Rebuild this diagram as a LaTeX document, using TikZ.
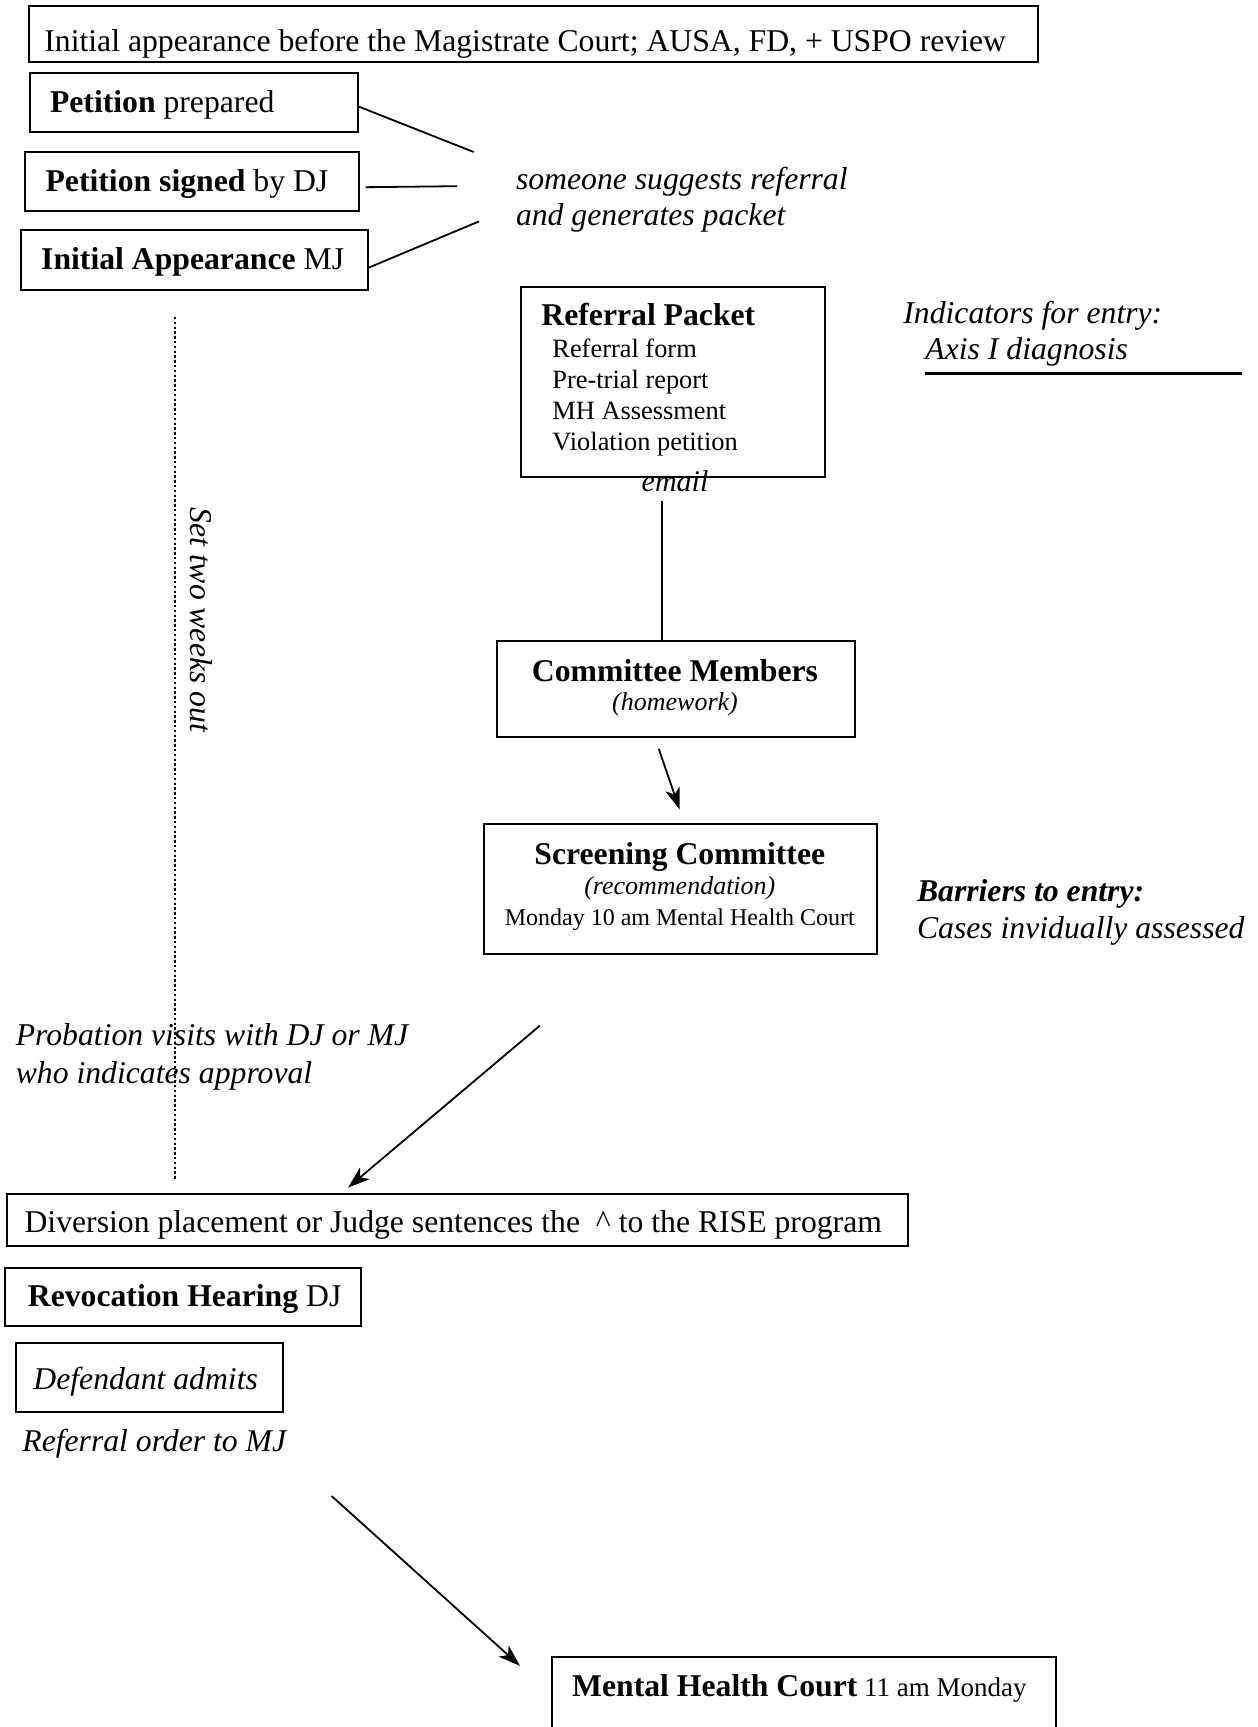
\documentclass[tikz,border=0pt]{standalone}
\usepackage{fontspec}
\setmainfont{Liberation Serif}
\usetikzlibrary{arrows.meta}
\newcommand\fsMain{\fontsize{15.85}{19}\selectfont}
\newcommand\fsItem{\fontsize{13.2}{16}\selectfont}
\newcommand\fsSub{\fontsize{13}{16}\selectfont}
\newcommand\fsSmall{\fontsize{12}{14}\selectfont}
\newcommand\fsMid{\fontsize{13.5}{16}\selectfont}
\newcommand\fsMail{\fontsize{15}{18}\selectfont}
\begin{document}
\begin{tikzpicture}[x=0.5pt,y=-0.5pt,
  box/.style={draw,line width=1pt,inner sep=0pt,anchor=north west},
  lbl/.style={inner sep=0pt,anchor=base west,font=\fsMain},
  ctr/.style={inner sep=0pt,anchor=base},
  conn/.style={line width=0.9pt},
  arr/.style={line width=0.9pt,-{Stealth[length=11pt,width=7.5pt,inset=3pt]}}]
\useasboundingbox (0,0) rectangle (1257,1727);
\clip (0,0) rectangle (1257,1727);

% boxes
\node[box,minimum width=504.6pt,minimum height=27.55pt] (top) at (27.5,5.5) {};
\node[box,minimum width=164.2pt,minimum height=29.7pt] (pp) at (28.6,71.6) {};
\node[box,minimum width=166.9pt,minimum height=29.7pt] (ps) at (24.2,151) {};
\node[box,minimum width=173.5pt,minimum height=29.8pt] (ia) at (19.8,229) {};
\node[box,minimum width=152pt,minimum height=94.8pt] (rp) at (520,286.4) {};
\node[box,minimum width=179pt,minimum height=48pt] (cm) at (495.8,640) {};
\node[box,minimum width=196.6pt,minimum height=65pt] (sc) at (482.5,823) {};
\node[box,minimum width=450.6pt,minimum height=26pt] (dv) at (5.5,1193) {};
\node[box,minimum width=177.8pt,minimum height=29.2pt] (rh) at (4.4,1267) {};
\node[box,minimum width=133.3pt,minimum height=34.7pt] (da) at (15.4,1341.9) {};
\node[box,minimum width=252.2pt,minimum height=50pt] (mhc) at (551,1656) {};

% texts in boxes
\node[lbl] (toptxt) at (44,51.8) {Initial appearance before the Magistrate Court; AUSA, FD, + USPO review};
\node[lbl] (pptxt) at (49.6,112.4) {\bfseries Petition\mdseries\ prepared};
\node[lbl] (pstxt) at (45.2,191.7) {\bfseries Petition signed\mdseries\ by DJ};
\node[lbl] (iatxt) at (40.8,270) {\bfseries Initial Appearance\mdseries\ MJ};
\node[lbl,font=\fsMain\bfseries] (rptitle) at (541,326) {Referral Packet};
\node[lbl,font=\fsItem] (rp1) at (552,358) {Referral form};
\node[lbl,font=\fsItem] (rp2) at (552,389) {Pre-trial report};
\node[lbl,font=\fsItem] (rp3) at (552,419.7) {MH Assessment};
\node[lbl,font=\fsItem] (rp4) at (552,450.6) {Violation petition};
\node[ctr,font=\fsMail\itshape] (email) at (675,491) {email};
\node[ctr,font=\fsMain\bfseries] (cmtitle) at (675,681) {Committee Members};
\node[ctr,font=\fsSub\itshape] (cmsub) at (675,710.6) {(homework)};
\node[ctr,font=\fsMain\bfseries] (sctitle) at (679.8,864.8) {Screening Committee};
\node[ctr,font=\fsSub\itshape] (scsub) at (679.8,894.6) {(recommendation)};
\node[ctr,font=\fsSmall] (scmon) at (679.8,925.4) {Monday 10 am Mental Health Court};
\node[lbl] (dvtxt) at (24.2,1232.8) {Diversion placement or Judge sentences the~~\textasciicircum{} to the RISE program};
\node[lbl] (rhtxt) at (27.5,1306.6) {\bfseries Revocation Hearing\mdseries\ DJ};
\node[lbl,font=\fsMain\itshape] (datxt) at (33,1389) {Defendant admits};
\node[lbl] (mhctxt) at (571.8,1696.6) {\bfseries Mental Health Court\mdseries\fsMid\ 11 am Monday};

% free texts
\node[lbl,font=\fsMain\itshape] (sug1) at (515.6,189.5) {someone suggests referral};
\node[lbl,font=\fsMain\itshape] (sug2) at (515.6,225.8) {and generates packet};
\node[lbl,font=\fsMain\itshape] (ind1) at (903,324) {Indicators for entry:};
\node[lbl,font=\fsMain\itshape] (ind2) at (925,360) {Axis I diagnosis};
\node[lbl,font=\fsMain\bfseries\itshape] (bar1) at (916.6,901) {Barriers to entry:};
\node[lbl,font=\fsMain\itshape] (bar2) at (916.6,938.6) {Cases invidually assessed};
\node[lbl,font=\fsMain\itshape] (prob1) at (15.4,1045.5) {Probation visits with DJ or MJ};
\node[lbl,font=\fsMain\itshape] (prob2) at (15.4,1083) {who indicates approval};
\node[lbl,font=\fsMain\itshape] (ref) at (22,1451) {Referral order to MJ};
\node[lbl,font=\fsMain\itshape,rotate=-90] (set) at (190,507) {Set two weeks out};

% coordinates
\coordinate (c1) at (473.7,152);
\coordinate (c2) at (457,186.2);
\coordinate (c3) at (479,221.4);
\coordinate (vl) at (662,501);
\coordinate (a1s) at (658.8,749);
\coordinate (a1e) at (679.7,809.7);
\coordinate (a2s) at (539.8,1025.7);
\coordinate (a2e) at (348,1187.6);
\coordinate (a3s) at (331.6,1496);
\coordinate (a3e) at (520,1665.8);
\coordinate (dots) at (175,317);
\coordinate (dote) at (175,1179);
\coordinate (uls) at (925,373.5);
\coordinate (ule) at (1241.6,373.5);

% connectors
\draw[conn] ([yshift=-2.2pt]pp.east) -- (c1);
\draw[conn] ([xshift=2.8pt,yshift=-2.75pt]ps.east) -- (c2);
\draw[conn] ([yshift=-3.9pt]ia.east) -- (c3);
\draw[conn] (vl) -- (vl |- cm.north);
\draw[arr] (a1s) -- (a1e);
\draw[arr] (a2s) -- (a2e);
\draw[arr] (a3s) -- (a3e);
\draw[line width=1pt,dash pattern=on 1.2pt off 1.2pt] (dots) -- (dote);
\draw[line width=1.8pt] (uls) -- (ule);
\end{tikzpicture}
\end{document}
